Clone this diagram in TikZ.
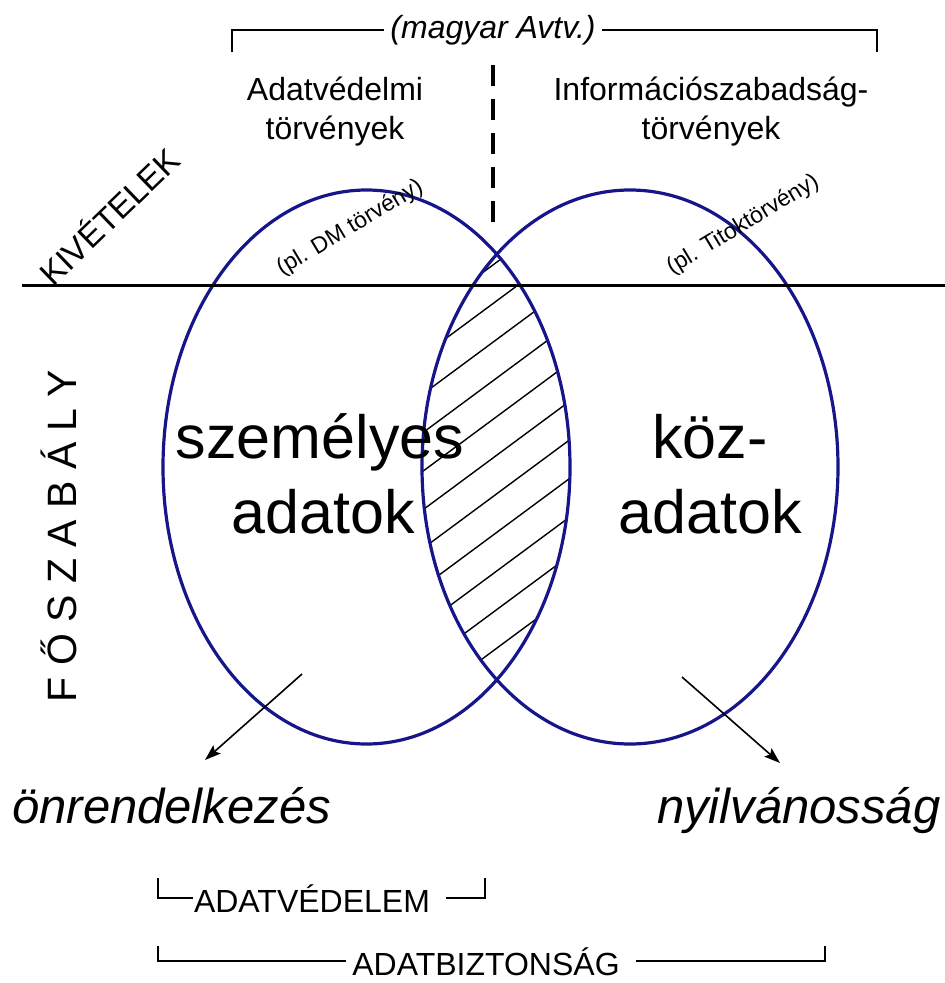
\documentclass[tikz,border=0pt]{standalone}
\usepackage{fontspec}
\setmainfont{Liberation Sans}
\usetikzlibrary{arrows.meta}
\definecolor{ellblue}{RGB}{22,22,138}
\begin{document}
\begin{tikzpicture}[x=1pt,y=-1pt,
  ell/.style={draw=ellblue, line width=3.2pt},
  hatchline/.style={line width=1.4pt, line cap=round},
  brk/.style={line width=2pt},
  mainline/.style={line width=3pt},
  arr/.style={line width=1.6pt, -{Stealth[length=16pt,width=11pt,inset=3pt]}},
  lbl/.style={inner sep=0pt, font=\fontsize{32}{38}\selectfont},
  big/.style={inner sep=0pt, font=\fontsize{61}{70}\selectfont},
  itl/.style={inner sep=0pt, font=\fontsize{49}{56}\selectfont\itshape},
  small/.style={inner sep=0pt, font=\fontsize{23}{27}\selectfont},
]
\useasboundingbox (0,0) rectangle (945,983);

% centres of the circles
\coordinate (c1) at (366.5,467);
\coordinate (c2) at (630,467);

% hatch in the lens
\begin{scope}
  \clip (c1) ellipse [x radius=203.5, y radius=277];
  \clip (c2) ellipse [x radius=208, y radius=277];
  \foreach \k in {-1,...,11} {
    \draw[hatchline] (380,{262+38.6*\k+86.58}) -- (620,{262+38.6*\k-91.02});
  }
\end{scope}

% ellipses
\draw[ell] (c1) ellipse [x radius=203.5, y radius=277];
\draw[ell] (c2) ellipse [x radius=208, y radius=277];

% horizontal division line
\coordinate (hL) at (22,285);
\coordinate (hR) at (945,285);
\draw[mainline] (hL) -- (hR);

% dashed separator
\coordinate (dT) at (493,65);
\coordinate (dB) at (493,223);
\draw[line width=4pt, dash pattern=on 21pt off 13pt] (dT) -- (dB);

% top bracket
\node[lbl, font=\fontsize{32}{38}\selectfont\itshape, inner sep=6pt, anchor=base] (avtv) at (493,38) {(magyar Avtv.)};
\coordinate (tbL) at (232,52);
\coordinate (tbR) at (877,52);
\draw[brk] (tbL) |- (avtv.west);
\draw[brk] (tbR) |- (avtv.east);

% top labels
\node[lbl, anchor=base] (adv1) at (335,100) {Adatvédelmi};
\node[lbl, anchor=base] (adv2) at (335,139) {törvények};
\node[lbl, anchor=base] (inf1) at (711,100) {Információszabadság-};
\node[lbl, anchor=base] (inf2) at (711,139) {törvények};

% rotated labels
\node[lbl, rotate=44, font=\fontsize{33}{38}\selectfont] (kiv) at (108,215) {KIVÉTELEK};
\node[small, rotate=31] (dm) at (350,228) {(pl. DM törvény)};
\node[small, rotate=31] (titok) at (743,225) {(pl. Titoktörvény)};
\node[lbl, rotate=90, anchor=base, font=\fontsize{41}{48}\selectfont] (fosz) at (76,536) {F Ő S Z A B Á L Y};

% big texts
\node[big, anchor=base] (szem) at (320,458) {személyes};
\node[big, anchor=base] (adat1) at (323,533) {adatok};
\node[big, anchor=base] (koz) at (710,458) {köz-};
\node[big, anchor=base] (adat2) at (710,533) {adatok};

% arrows
\coordinate (a1s) at (302,674);
\coordinate (a1e) at (205,760);
\coordinate (a2s) at (682,677);
\coordinate (a2e) at (780,763);
\draw[arr] (a1s) -- (a1e);
\draw[arr] (a2s) -- (a2e);

% bottom italic labels
\node[itl, anchor=base west] (onr) at (12,823) {önrendelkezés};
\node[itl, anchor=base west] (nyil) at (657,823) {nyilvánosság};

% bottom brackets
\node[lbl, anchor=base, inner sep=1pt] (advd) at (312,912) {ADATVÉDELEM};
\coordinate (b1L) at (158,878);
\coordinate (b1R) at (485,878);
\draw[brk] (b1L) |- (advd.west);
\draw[brk] (b1R) |- ([xshift=15pt]advd.east);

\node[lbl, anchor=base, inner sep=1pt] (adbt) at (486,975) {ADATBIZTONSÁG};
\coordinate (b2L) at (158,946);
\coordinate (b2R) at (825,946);
\draw[brk] (b2L) |- ([xshift=-5pt]adbt.west);
\draw[brk] (b2R) |- ([xshift=15pt]adbt.east);
\end{tikzpicture}
\end{document}
